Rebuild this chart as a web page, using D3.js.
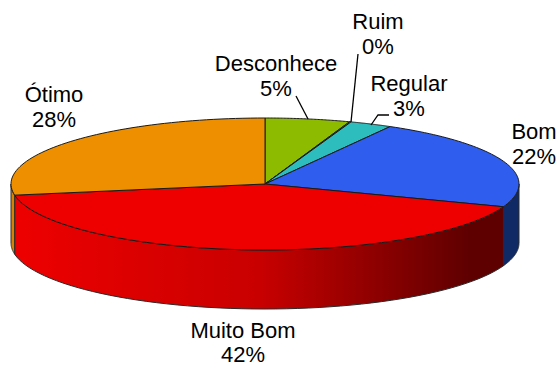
<!DOCTYPE html>
<html>
<head>
<meta charset="utf-8">
<script src="https://d3js.org/d3.v7.min.js"></script>
<style>
  html, body { margin: 0; padding: 0; background: #fff; }
  text { font-family: "Liberation Sans", Arial, sans-serif; font-size: 22px; fill: #000; text-anchor: middle; }
</style>
</head>
<body>
<div id="chart"></div>
<script>
// data, clockwise from 12 o'clock
var categories = ["Desconhece", "Ruim", "Regular", "Bom", "Muito Bom", "Ótimo"];
var values = [5.4, 0.1, 2.7, 22.4, 41.7, 27.7];
var topColors = ["#8dbb00", "#8dbb00", "#2dbdbd", "#2f5eee", "#ee0000", "#ee8f00"];
var sideColors = ["#5f7d00", "#5f7d00", "#1d8080", "#102a66", "url(#redSide)", "#d98200"];

var width = 558, height = 367;
var cx = 265, cy = 184, rx = 254, ry = 66, depth = 59;

var svg = d3.select("#chart").append("svg")
  .attr("width", width)
  .attr("height", height)
  .style("display", "block");

// shading on the front wall of the red slice
var grad = svg.append("defs").append("linearGradient")
  .attr("id", "redSide")
  .attr("gradientUnits", "userSpaceOnUse")
  .attr("x1", 14).attr("x2", 503).attr("y1", 0).attr("y2", 0);
grad.append("stop").attr("offset", "0").attr("stop-color", "#ee0000");
grad.append("stop").attr("offset", "0.5").attr("stop-color", "#c90000");
grad.append("stop").attr("offset", "0.93").attr("stop-color", "#5f0000");
grad.append("stop").attr("offset", "1").attr("stop-color", "#5f0000");

var slices = d3.pie().sort(null)(values);

// angle measured clockwise from the top, projected to the tilted ellipse
function px(a) { return cx + rx * Math.sin(a); }
function py(a) { return cy - ry * Math.cos(a); }

function rim(a0, a1, dy) {
  var pts = d3.range(0, 61).map(function(i) {
    var a = a0 + (a1 - a0) * i / 60;
    return [px(a), py(a) + dy];
  });
  return pts;
}

var line = d3.line();

// side walls, only where the rim faces the viewer
var sides = svg.append("g");
slices.forEach(function(d, i) {
  var a0 = Math.max(d.startAngle, Math.PI / 2);
  var a1 = Math.min(d.endAngle, Math.PI * 1.5);
  if (a1 <= a0) return;
  var pts = rim(a0, a1, 0).concat(rim(a1, a0, depth));
  sides.append("path")
    .attr("d", line(pts) + "Z")
    .attr("fill", sideColors[i])
    .attr("stroke", "#2a2a2a")
    .attr("stroke-width", 1);
});

// top faces
var tops = svg.append("g");
slices.forEach(function(d, i) {
  var pts = [[cx, cy]].concat(rim(d.startAngle, d.endAngle, 0));
  tops.append("path")
    .attr("d", line(pts) + "Z")
    .attr("fill", topColors[i])
    .attr("stroke", "#1a1a1a")
    .attr("stroke-width", 1)
    .attr("stroke-linejoin", "round");
});

// labels: x, baseline of the name, baseline of the percent
var labelPos = [[276, 71, 96], [378, 29, 54], [409, 91, 116], [534, 139, 164], [243, 338, 362], [54, 102, 127]];
var labels = svg.append("g");
categories.forEach(function(name, i) {
  labels.append("text")
    .attr("x", labelPos[i][0])
    .attr("y", labelPos[i][1])
    .text(name);
  labels.append("text")
    .attr("x", labelPos[i][0])
    .attr("y", labelPos[i][2])
    .text(d3.format(".0f")(values[i]) + "%");
});

// leader lines
var leaders = [
  [[296, 96], [308, 119]],
  [[358, 54], [351, 122]],
  [[389, 115], [378, 115], [371, 125]]
];
svg.append("g").selectAll("path")
  .data(leaders)
  .join("path")
  .attr("d", line)
  .attr("fill", "none")
  .attr("stroke", "#000")
  .attr("stroke-width", 1.3);
</script>
</body>
</html>
